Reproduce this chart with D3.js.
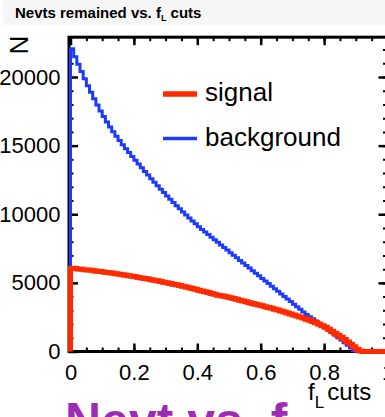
<!DOCTYPE html>
<head>
<meta charset="utf-8">
<style>
body { margin: 0; background: #fff; }
text { font-family: "Liberation Sans", Arial, Helvetica, sans-serif; fill: #000; }
.tick text { font-size: 22px; }
</style>
</head>
<body>
<script src="https://cdn.jsdelivr.net/npm/d3@7/dist/d3.min.js"></script>
<script>

// bin width 0.01 in f_L, 100 bins from 0 to 1
var binWidth = 0.01;

// background: events remaining after the f_L cut
var background = [
  22050, 21480, 20930, 20400, 19880, 19370, 18880, 18410, 17960, 17530,
  17120, 16730, 16360, 16010, 15680, 15365, 15065, 14776, 14491, 14209,
  13930, 13655, 13384, 13116, 12851, 12590, 12333, 12079, 11828, 11581,
  11338, 11098, 10861, 10628, 10399, 10173, 9950, 9731, 9516, 9304,
  9095, 8890, 8704, 8516, 8329, 8141, 7953, 7765, 7577, 7390,
  7202, 7014, 6826, 6638, 6451, 6263, 6075, 5887, 5699, 5512,
  5324, 5136, 4948, 4760, 4573, 4385, 4197, 4009, 3821, 3634,
  3446, 3258, 3070, 2882, 2700, 2540, 2380, 2215, 2050, 1880,
  1710, 1540, 1370, 1190, 1010, 830, 640, 450, 250, 60,
  0, 0, 0, 0, 0, 0, 0, 0, 0, 0
];

// signal: events remaining after the f_L cut
var signal = [
  6060, 6040, 6015, 5990, 5965, 5940, 5915, 5885, 5855, 5825,
  5795, 5765, 5735, 5700, 5665, 5630, 5595, 5560, 5520, 5480,
  5440, 5400, 5360, 5320, 5278, 5235, 5191, 5146, 5100, 5053,
  5005, 4956, 4906, 4855, 4803, 4750, 4696, 4641, 4585, 4528,
  4470, 4411, 4351, 4290, 4228, 4165, 4101, 4060, 4025, 3970,
  3913, 3856, 3798, 3740, 3681, 3621, 3561, 3500, 3443, 3385,
  3327, 3268, 3209, 3150, 3084, 3017, 2948, 2878, 2807, 2735,
  2662, 2588, 2513, 2437, 2355, 2270, 2182, 2090, 1990, 1880,
  1760, 1620, 1480, 1335, 1185, 1030, 870, 700, 520, 340,
  160, 30, 0, 0, 0, 0, 0, 0, 0, 0
];

var xTicks = [0, 0.2, 0.4, 0.6, 0.8, 1];
var yTicks = [0, 5000, 10000, 15000, 20000];
var xRange = [0, 1];
var yRange = [0, 22900];

var legendItems = [
  {name: "signal", color: "#ff2a00", width: 5},
  {name: "background", color: "#1d3bff", width: 3}
];

var width = 385, height = 417;

var svg = d3.select("body").append("svg")
    .attr("width", width)
    .attr("height", height);

var x = d3.scaleLinear().domain(xRange).range([70.5, 387.5]);
var y = d3.scaleLinear().domain([0, 20000]).range([351.5, 77]);

// title box
svg.append("rect")
    .attr("x", 3).attr("y", 0)
    .attr("width", 382).attr("height", 25)
    .style("fill", "#f6f6f6");

var title = svg.append("text")
    .attr("x", 15).attr("y", 18)
    .style("font-size", "15px")
    .style("font-weight", "bold");
title.append("tspan").text("Nevts remained vs. f");
title.append("tspan").attr("dy", 3).style("font-size", "9px").text("L");
title.append("tspan").attr("dy", -3).text(" cuts");

// big purple text partly hidden below
svg.append("text")
    .attr("x", 65).attr("y", 438)
    .style("font-size", "50px")
    .style("font-weight", "bold")
    .style("fill", "#9c2cb4")
    .text("Nevt vs. f");

var x0 = x(xRange[0]), x1 = x(xRange[1]);
var y0 = y(yRange[0]), y1 = y(yRange[1]);

// frame
svg.append("rect")
    .attr("x", x0 - 1.5).attr("y", y1)
    .attr("width", x1 - x0 + 1.5).attr("height", y0 - y1)
    .style("fill", "none")
    .style("stroke", "#000")
    .style("stroke-width", 3);

function minorValues(step, lo, hi) {
  var out = [];
  for (var v = lo; v <= hi + 1e-9; v += step) out.push(+v.toFixed(4));
  return out;
}

var xMinor = minorValues(0.05, 0, 1);
var yMinor = minorValues(1000, 0, 22000);

function drawAxis(axis, tx, ty, cls) {
  var g = svg.append("g")
      .attr("class", cls)
      .attr("transform", "translate(" + tx + "," + ty + ")")
      .call(axis);
  g.select(".domain").remove();
  g.selectAll(".tick line").style("stroke", "#000");
  return g;
}

// bottom axis
var gxb = drawAxis(d3.axisBottom(x).tickValues(xTicks).tickSize(-8).tickPadding(13)
    .tickFormat(function(d) { return d === 0 || d === 1 ? d3.format("d")(d) : d3.format(".1f")(d); }),
    0, y0, "xaxis");
gxb.selectAll(".tick line").style("stroke-width", 2.5);
drawAxis(d3.axisBottom(x).tickValues(xMinor).tickSize(-4).tickFormat(""), 0, y0, "xminor")
    .selectAll(".tick line").style("stroke-width", 2);

// top axis
drawAxis(d3.axisTop(x).tickValues(xTicks).tickSize(-8).tickFormat(""), 0, y1, "xtop")
    .selectAll(".tick line").style("stroke-width", 2.5);
drawAxis(d3.axisTop(x).tickValues(xMinor).tickSize(-4).tickFormat(""), 0, y1, "xtopminor")
    .selectAll(".tick line").style("stroke-width", 2);

// left axis
var gyl = drawAxis(d3.axisLeft(y).tickValues(yTicks).tickSize(-9).tickPadding(8.5)
    .tickFormat(d3.format("d")), x0 - 1.5, 0, "yaxis");
gyl.selectAll(".tick line").style("stroke-width", 2.5);
drawAxis(d3.axisLeft(y).tickValues(yMinor).tickSize(-4.5).tickFormat(""), x0 - 1.5, 0, "yminor")
    .selectAll(".tick line").style("stroke-width", 2);

// right axis
drawAxis(d3.axisRight(y).tickValues(yTicks).tickSize(-9).tickFormat(""), x1, 0, "yright")
    .selectAll(".tick line").style("stroke-width", 2.5);
drawAxis(d3.axisRight(y).tickValues(yMinor).tickSize(-4.5).tickFormat(""), x1, 0, "yrightminor")
    .selectAll(".tick line").style("stroke-width", 2);

// axis titles
var xt = svg.append("text")
    .attr("x", 308).attr("y", 400)
    .style("font-size", "24px");
xt.append("tspan").text("f");
xt.append("tspan").attr("dy", 8).style("font-size", "17px").text("L");
xt.append("tspan").attr("dy", -8).attr("dx", 3).text("cuts");

svg.append("text")
    .attr("transform", "translate(28,45) rotate(-90)")
    .attr("text-anchor", "middle")
    .style("font-size", "26px")
    .text("N");

// histograms as steps
function stepPoints(values) {
  var pts = [[0, 0]];
  values.forEach(function(v, i) { pts.push([i * binWidth, v]); });
  pts.push([1, values[values.length - 1]]);
  return pts;
}

var line = d3.line()
    .x(function(d) { return x(d[0]); })
    .y(function(d) { return y(d[1]); })
    .curve(d3.curveStepAfter);

svg.append("path")
    .attr("d", line(stepPoints(background)))
    .style("fill", "none")
    .style("stroke", legendItems[1].color)
    .style("stroke-width", legendItems[1].width);

svg.append("path")
    .attr("d", line(stepPoints(signal)))
    .style("fill", "none")
    .style("stroke", legendItems[0].color)
    .style("stroke-width", legendItems[0].width);

// legend
var legend = svg.selectAll(".legend")
    .data(legendItems)
    .enter().append("g")
    .attr("class", "legend")
    .attr("transform", function(d, i) { return "translate(163," + (94 + i * 44.5) + ")"; });

legend.append("line")
    .attr("x1", 0).attr("x2", 34)
    .style("stroke", function(d) { return d.color; })
    .style("stroke-width", function(d) { return d.width + 0.5; });

legend.append("text")
    .attr("x", 42).attr("y", 7)
    .style("font-size", "26px")
    .text(function(d) { return d.name; });

</script>
</body>
</html>
